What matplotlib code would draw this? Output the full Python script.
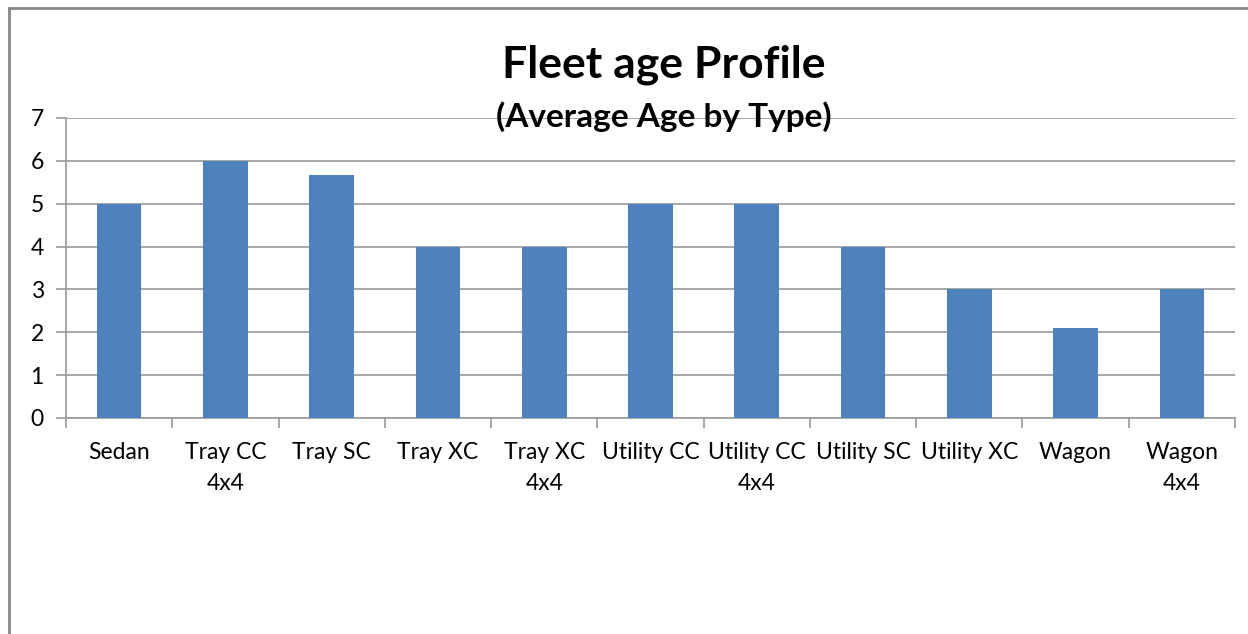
import matplotlib.pyplot as plt
from matplotlib.lines import Line2D
import numpy as np

plt.rcParams['font.family'] = ['Lato', 'DejaVu Sans']

types = ["Sedan", "Tray CC\n4x4", "Tray SC", "Tray XC", "Tray XC\n4x4", "Utility CC",
         "Utility CC\n4x4", "Utility SC", "Utility XC", "Wagon", "Wagon\n4x4"]
avg_age = [5, 6, 5.67, 4, 4, 5, 5, 4, 3, 2.1, 3]

fig = plt.figure(figsize=(12.48, 6.34), dpi=100)
ax = fig.add_axes([0.0529, 0.3407, 0.9367, 0.4732])

x = np.arange(len(types))
ax.bar(x, avg_age, width=0.42, color="#4f81bd", zorder=3)

ax.set_xlim(-0.5, len(types) - 0.5)
ax.set_ylim(0, 7)
ax.set_yticks(range(8))
ax.yaxis.grid(True, color="#a0a0a0", linewidth=1.3, zorder=0)

ax.set_xticks(x)
ax.set_xticklabels(types, fontsize=16.5, linespacing=1.6)
ax.set_xticks(np.arange(-0.5, len(types)), minor=True)
ax.tick_params(axis="x", which="major", length=0, pad=17)
ax.tick_params(axis="x", which="minor", length=7, color="#a0a0a0", width=1.3)
ax.tick_params(axis="y", length=7, color="#a0a0a0", width=1.3, labelsize=16.5, pad=9)

for s in ["top", "right"]:
    ax.spines[s].set_visible(False)
for s in ["left", "bottom"]:
    ax.spines[s].set_color("#a0a0a0")
    ax.spines[s].set_linewidth(1.3)

fig.text(0.532, 0.898, "Fleet age Profile", ha="center", va="center",
         fontsize=32, fontweight="bold")
fig.text(0.532, 0.816, "(Average Age by Type)", ha="center", va="center",
         fontsize=24, fontweight="bold", zorder=10)

# outer chart frame (left and top edges visible)
fig.add_artist(Line2D([0.0072, 0.0072], [0, 0.987], color="#888888", linewidth=2))
fig.add_artist(Line2D([0.0072, 1], [0.987, 0.987], color="#888888", linewidth=2))

fig.savefig("out.png", dpi=100)
